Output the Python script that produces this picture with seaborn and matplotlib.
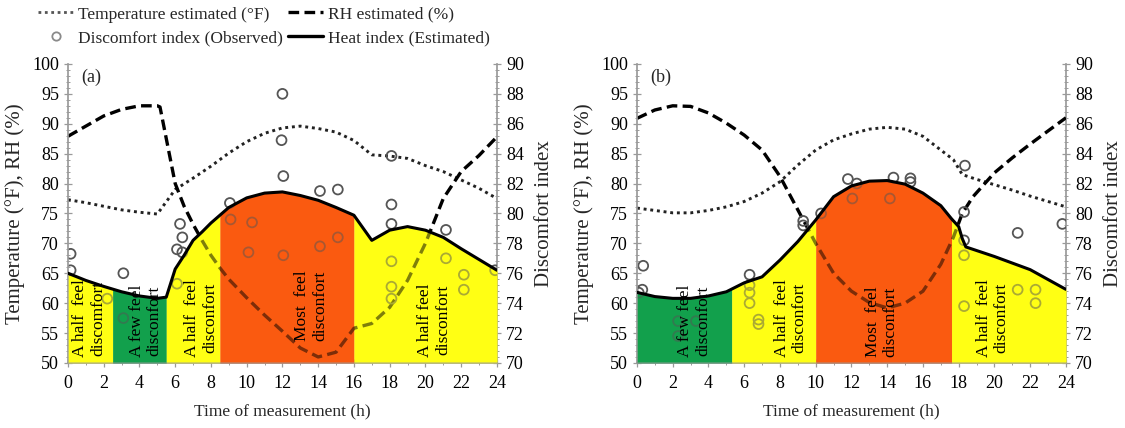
import numpy as np
import matplotlib
matplotlib.use("Agg")
import matplotlib.pyplot as plt
import seaborn as sns
from matplotlib.lines import Line2D
from matplotlib.ticker import MultipleLocator

# ---------------- Panel (a) ----------------
temp_a_h = [0, 1, 2, 3, 4, 5, 6, 7, 8, 9, 10, 11, 12, 13, 14, 15, 16, 17, 18, 19, 20, 21, 22, 23, 24]
temp_a = [77.3, 76.8, 76.2, 75.6, 75.2, 74.9, 79.0, 80.9, 82.9, 85.1, 87.0, 88.4, 89.3, 89.6, 89.2,
          88.6, 87.2, 84.8, 84.6, 84.2, 83.0, 82.0, 80.6, 79.2, 77.5]

rh_a_h = [0, 1, 2, 3, 4, 5, 5.15, 6, 6.5, 7, 7.5, 8, 8.5, 9, 10, 11, 12, 13, 14, 15, 16, 17, 18, 19,
          20, 21, 22, 23, 24]
rh_a = [87.9, 89.6, 91.3, 92.4, 93.0, 93.0, 92.8, 80.0, 76.2, 73.2, 70.5, 68.0, 65.9, 64.0, 60.9,
        58.0, 55.3, 52.5, 51.0, 51.8, 55.8, 56.6, 59.3, 63.8, 70.0, 77.5, 82.0, 84.7, 87.8]

heat_a_h = [0, 1, 2, 3, 4, 5, 5.5, 6, 6.5, 7, 7.5, 8, 8.5, 9, 10, 11, 12, 13, 14, 15, 16, 17, 18,
            19, 20, 21, 22, 23, 24]
heat_a = [65.0, 63.8, 62.8, 61.9, 61.2, 60.8, 61.0, 65.7, 68.0, 70.5, 71.9, 73.4, 74.7, 76.0, 77.6,
          78.4, 78.6, 78.0, 77.2, 76.0, 74.7, 70.5, 72.2, 72.8, 72.2, 71.0, 69.1, 67.3, 65.5]

obs_a_h = [0.15, 0.15, 2.2, 3.1, 3.1, 6.1, 6.1, 6.27, 6.4, 6.4, 9.06, 9.1, 10.1, 10.3, 12.0, 11.95,
           12.05, 12.05, 14.1, 14.1, 15.1, 15.1, 18.1, 18.1, 18.1, 18.1, 18.1, 18.1, 21.15, 21.15,
           22.15, 22.15, 23.9]
obs_a = [77.3, 76.2, 74.3, 76.0, 73.0, 75.3, 77.6, 79.3, 78.4, 77.4, 80.7, 79.6, 77.4, 79.4, 88.0,
         84.9, 82.5, 77.2, 81.5, 77.8, 81.6, 78.4, 83.85, 80.6, 79.3, 76.8, 75.1, 74.3, 78.9, 77.0,
         75.9, 74.9, 76.2]

zones_a = [0, 2.5, 5.5, 8.5, 16.0, 24]
zone_kind_a = ["half", "few", "half", "most", "half"]
notes_a = ["A half  feel\ndiscomfort", "A few feel\ndisconfort", "A half  feel\ndisconfort",
           "Most  feel\ndisconfort", "A half feel\ndisconfort"]

# ---------------- Panel (b) ----------------
temp_b_h = [0, 1, 2, 3, 4, 5, 6, 7, 8, 9, 10, 11, 12, 13, 14, 15, 16, 17, 17.7, 18.2, 19, 20, 21,
            22, 23, 24]
temp_b = [75.9, 75.5, 75.1, 75.1, 75.5, 76.1, 77.0, 78.4, 80.3, 83.1, 85.6, 87.3, 88.3, 89.1, 89.4,
          89.1, 87.9, 85.6, 84.0, 81.5, 80.7, 79.8, 78.9, 77.9, 77.0, 76.1]

rh_b_h = [0, 1, 2, 3, 4, 5, 6, 7, 8, 9, 10, 11, 12, 13, 14, 15, 16, 17, 17.7, 18.2, 18.8, 20, 21,
          22, 23, 24]
rh_b = [90.9, 92.3, 93.0, 92.9, 91.8, 90.1, 88.1, 85.6, 81.2, 75.6, 70.0, 65.0, 62.0, 60.1, 59.2,
        60.0, 62.0, 66.5, 71.0, 75.0, 77.8, 81.8, 84.3, 86.6, 88.8, 91.0]

heat_b_h = [0, 1, 2, 3, 4, 5, 6, 7, 8, 9, 10, 11, 12, 13, 14, 15, 16, 17, 17.6, 18.0, 18.2, 18.4,
            20, 22, 24]
heat_b = [61.8, 61.1, 60.8, 60.8, 61.2, 61.9, 63.4, 64.4, 67.2, 70.3, 73.9, 77.8, 79.6, 80.4, 80.5,
          79.9, 78.4, 76.3, 74.1, 72.8, 70.8, 69.4, 67.8, 65.6, 62.3]

obs_b_h = [0.1, 0.35, 0.3, 2.3, 2.3, 3.3, 6.3, 6.3, 6.3, 6.3, 6.8, 6.8, 9.3, 9.3, 10.3, 11.8, 12.3,
           12.05, 14.35, 14.15, 15.3, 15.3, 18.35, 18.3, 18.3, 18.3, 18.3, 21.3, 21.3, 22.3, 22.3,
           23.8]
obs_b = [74.7, 76.5, 74.9, 72.8, 71.8, 72.8, 75.9, 75.2, 74.7, 74.0, 72.9, 72.6, 79.5, 79.2, 80.0,
         82.3, 82.0, 81.0, 82.4, 81.0, 82.35, 82.1, 83.2, 80.1, 78.2, 77.2, 73.8, 78.7, 74.9, 74.9,
         74.0, 79.3]

zones_b = [0, 5.3, 10.0, 17.6, 24]
zone_kind_b = ["few", "half", "most", "half"]
notes_b = ["A few feel\ndisconfort", "A half  feel\ndisconfort", "Most  feel\ndisconfort",
           "A half  feel\ndisconfort"]

# placement of the rotated zone captions (hour, bottom value)
note_pos_a = [(1.2, 51.0), (4.35, 51.0), (7.45, 51.0), (13.6, 53.6), (20.5, 51.0)]
note_pos_b = [(3.2, 51.0), (8.6, 51.0), (13.7, 51.0), (19.9, 51.0)]

ZONE_COLORS = {"few": "#12A04C", "half": "#FFFF14", "most": "#FA5A10"}


def to_di(t):
    return 70 + (np.asarray(t) - 50) * 0.4


def to_left(d):
    return 50 + (np.asarray(d) - 70) * 2.5


sns.set_theme(style="ticks")
plt.rcParams["font.family"] = ["Liberation Serif", "DejaVu Serif"]
plt.rcParams["axes.edgecolor"] = "#9a9a9a"
plt.rcParams["xtick.color"] = "#9a9a9a"
plt.rcParams["ytick.color"] = "#9a9a9a"
plt.rcParams["xtick.labelcolor"] = "black"
plt.rcParams["ytick.labelcolor"] = "black"

fig = plt.figure(figsize=(11.25, 4.28), dpi=100)
ax_a = fig.add_axes([0.0604, 0.152, 0.3813, 0.6986])
ax_b = fig.add_axes([0.5662, 0.152, 0.3813, 0.6986])

DOT = (0, (1.0, 1.3))
DASH = (0, (3.2, 1.6))


def draw_panel(ax, tag, th, tv, rh_h, rh_v, hh, hv, oh, ov, zones, kinds, notes, note_pos):
    # estimated temperature and relative humidity
    sns.lineplot(x=th, y=tv, ax=ax, color="#222222", lw=2.1, linestyle=DOT,
                 estimator=None, zorder=2)
    sns.lineplot(x=rh_h, y=rh_v, ax=ax, color="black", lw=2.4, linestyle=DASH,
                 estimator=None, zorder=2)
    # observed discomfort index (right axis scale)
    sns.scatterplot(x=oh, y=to_left(ov), ax=ax, marker="o", s=50, facecolor="none",
                    edgecolor="#555555", linewidth=1.3, zorder=2, legend=False)
    # comfort zones under the heat index curve: opaque base + translucent veil
    for alpha, z in ((1.0, 1), (0.5, 3)):
        for lo, hi, k in zip(zones[:-1], zones[1:], kinds):
            xs = np.linspace(lo, hi, 150)
            ax.fill_between(xs, 50, np.interp(xs, hh, hv), color=ZONE_COLORS[k],
                            alpha=alpha, lw=0, zorder=z)
    sns.lineplot(x=hh, y=hv, ax=ax, color="black", lw=2.2, estimator=None, zorder=4)

    for txt, (xp, yp) in zip(notes, note_pos):
        ax.text(xp, yp, txt, rotation=90, ha="center", va="bottom", fontsize=12.5,
                color="black", zorder=5, linespacing=1.15)

    ax.text(0.03, 0.985, tag, transform=ax.transAxes, ha="left", va="top", fontsize=13)

    ax.set_xlim(0, 24)
    ax.set_ylim(50, 100)
    ax.set_xticks(range(0, 25, 2))
    ax.xaxis.set_minor_locator(MultipleLocator(1))
    ax.set_yticks(range(50, 101, 5))
    ax.yaxis.set_minor_locator(MultipleLocator(1))
    ax.tick_params(axis="both", which="major", direction="inout", length=6, width=0.9,
                   labelsize=13)
    ax.tick_params(axis="both", which="minor", direction="inout", length=3, width=0.7)
    ax.tick_params(axis="x", pad=6)
    ax.spines["top"].set_visible(False)
    ax.spines["right"].set_visible(False)
    ax.set_xlabel("Time of measurement (h)", fontsize=12.5, labelpad=8)
    ax.set_ylabel("Temperature (°F), RH (%)", fontsize=15, labelpad=5)

    sec = ax.secondary_yaxis("right", functions=(to_di, to_left))
    sec.set_yticks(range(70, 91, 2))
    sec.yaxis.set_minor_locator(MultipleLocator(0.4))
    sec.tick_params(axis="y", which="major", direction="inout", length=6, width=0.9,
                    labelsize=13)
    sec.tick_params(axis="y", which="minor", direction="inout", length=3, width=0.7)
    sec.set_ylabel("Discomfort index", fontsize=15, labelpad=8)


draw_panel(ax_a, "(a)", temp_a_h, temp_a, rh_a_h, rh_a, heat_a_h, heat_a, obs_a_h, obs_a,
           zones_a, zone_kind_a, notes_a, note_pos_a)
draw_panel(ax_b, "(b)", temp_b_h, temp_b, rh_b_h, rh_b, heat_b_h, heat_b, obs_b_h, obs_b,
           zones_b, zone_kind_b, notes_b, note_pos_b)

handles = [
    Line2D([], [], color="#555555", lw=2.0, linestyle=DOT),
    Line2D([], [], ls="none", marker="o", mfc="none", mec="#8a8a8a", mew=1.3, ms=6),
    Line2D([], [], color="black", lw=2.4, linestyle=DASH),
    Line2D([], [], color="black", lw=2.4),
]
labels = ["Temperature estimated (°F)", "Discomfort index (Observed)",
          "RH estimated (%)", "Heat index (Estimated)"]
fig.legend(handles, labels, loc="upper left", bbox_to_anchor=(0.034, 0.985), ncol=2,
           frameon=False, fontsize=12.5, handlelength=2.0, handletextpad=0.3,
           columnspacing=0.3, labelspacing=0.45, borderpad=0, borderaxespad=0)

fig.savefig("out.png", dpi=100)
